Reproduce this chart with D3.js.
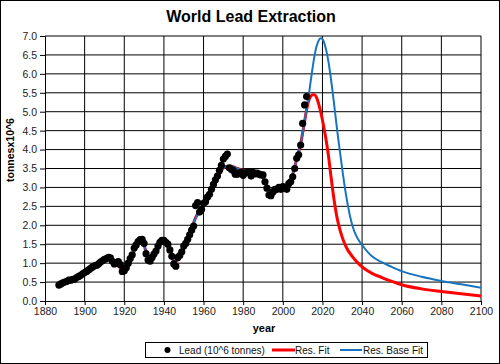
<!DOCTYPE html>
<html>
<head>
<meta charset="utf-8">
<script src="https://cdn.jsdelivr.net/npm/d3@7"></script>
<style>
  body { margin: 0; background: #fff; }
  svg { display: block; font-family: Arial, "Liberation Sans", sans-serif; }
</style>
</head>
<body>
<div id="chart"></div>
<script>
// lead extraction, 10^6 tonnes, one value per year starting 1887
var leadYears = d3.range(1887, 2013);
var leadValues = [
  0.42, 0.45, 0.48, 0.50, 0.52, 0.55, 0.55, 0.57, 0.58, 0.62,   // 1887-1896
  0.65, 0.68, 0.72, 0.75, 0.78, 0.82, 0.86, 0.90, 0.93, 0.94,   // 1897-1906
  0.98, 1.03, 1.06, 1.10, 1.12, 1.15, 1.14, 1.05, 0.98, 1.02,   // 1907-1916
  1.04, 0.96, 0.78, 0.80, 0.88, 1.00, 1.12, 1.22, 1.40, 1.48,   // 1917-1926
  1.57, 1.62, 1.63, 1.52, 1.25, 1.08, 1.05, 1.15, 1.24, 1.32,   // 1927-1936
  1.45, 1.55, 1.60, 1.60, 1.55, 1.50, 1.35, 1.18, 0.98, 0.92,   // 1937-1946
  1.15, 1.20, 1.30, 1.45, 1.52, 1.63, 1.75, 1.87, 1.98, 2.52,   // 1947-1956
  2.60, 2.35, 2.42, 2.58, 2.62, 2.75, 2.82, 2.95, 3.08, 3.20,   // 1957-1966
  3.30, 3.45, 3.58, 3.75, 3.82, 3.88, 3.52, 3.48, 3.45, 3.35,   // 1967-1976
  3.35, 3.38, 3.40, 3.32, 3.38, 3.40, 3.42, 3.30, 3.40, 3.36,   // 1977-1986
  3.38, 3.35, 3.33, 3.33, 3.15, 2.98, 2.80, 2.78, 2.88, 2.95,   // 1987-1996
  2.95, 3.00, 2.95, 3.02, 3.00, 2.95, 3.10, 3.15, 3.28, 3.50,   // 1997-2006
  3.77, 3.86, 4.12, 4.69, 5.18, 5.40                            // 2007-2012
];

// part of the two fits that follows the history (identical for both)
var histYears = [1887, 1890, 1895, 1900, 1905, 1910, 1913, 1916, 1919, 1921, 1924, 1927, 1929,
  1931, 1933, 1936, 1939, 1941, 1943, 1945, 1947, 1950, 1953, 1956, 1959, 1962, 1965, 1968,
  1971, 1974, 1977, 1980, 1983, 1986, 1989, 1991, 1993, 1995, 1997, 1999, 2001, 2003, 2005,
  2007, 2009, 2011];
var histFit = [0.38, 0.47, 0.58, 0.74, 0.92, 1.08, 1.13, 1.00, 0.84, 0.88, 1.20, 1.52, 1.60,
  1.30, 1.08, 1.32, 1.58, 1.56, 1.36, 1.05, 1.08, 1.40, 1.75, 2.20, 2.45, 2.72, 3.02, 3.35,
  3.55, 3.56, 3.50, 3.45, 3.40, 3.37, 3.33, 3.15, 2.90, 2.85, 2.90, 3.00, 3.00, 3.10, 3.35,
  3.75, 4.15, 4.75];

// Res. Fit
var resYears = [2012, 2013, 2014, 2015, 2016, 2017, 2018, 2019, 2020, 2021, 2022, 2023, 2024,
  2025, 2026, 2027, 2028, 2030, 2032, 2035, 2038, 2040, 2045, 2050, 2055, 2060, 2070, 2080,
  2090, 2100];
var resFit = [5.05, 5.28, 5.40, 5.45, 5.45, 5.38, 5.22, 5.02, 4.78, 4.50, 4.20, 3.85, 3.42,
  3.00, 2.62, 2.30, 2.05, 1.68, 1.42, 1.18, 1.00, 0.90, 0.73, 0.62, 0.52, 0.43, 0.32, 0.25,
  0.19, 0.13];

// Res. Base Fit
var baseYears = [2012, 2013, 2014, 2015, 2016, 2017, 2018, 2019, 2020, 2021, 2022, 2023, 2024,
  2025, 2026, 2027, 2028, 2029, 2030, 2031, 2032, 2033, 2034, 2036, 2038, 2040, 2045, 2050,
  2055, 2060, 2070, 2080, 2090, 2100];
var baseFit = [5.10, 5.40, 5.78, 6.15, 6.48, 6.72, 6.87, 6.94, 6.92, 6.80, 6.60, 6.33, 5.98,
  5.58, 5.15, 4.70, 4.27, 3.87, 3.48, 3.10, 2.77, 2.48, 2.22, 1.85, 1.63, 1.48, 1.18, 1.02,
  0.90, 0.79, 0.64, 0.53, 0.44, 0.35];

var xTicks = d3.range(1880, 2101, 20);
var yTicks = d3.range(0, 7.01, 0.5);

var width = 500, height = 364;
var margin = {top: 36, right: 19, bottom: 63, left: 45};

var svg = d3.select("#chart").append("svg")
    .attr("width", width)
    .attr("height", height);

svg.append("rect")
    .attr("x", 0.5).attr("y", 0.5)
    .attr("width", width - 1).attr("height", height - 1)
    .attr("fill", "#fff").attr("stroke", "#000");

var x = d3.scaleLinear().domain([1880, 2100]).range([margin.left, width - margin.right]);
var y = d3.scaleLinear().domain([0, 7]).range([height - margin.bottom, margin.top]);

// title
svg.append("text")
    .attr("x", 251).attr("y", 22)
    .attr("text-anchor", "middle")
    .attr("font-size", 16).attr("font-weight", "bold")
    .text("World Lead Extraction");

// grid
svg.append("g").selectAll("line").data(xTicks.slice(1)).enter().append("line")
    .attr("x1", d => x(d)).attr("x2", d => x(d))
    .attr("y1", y(0)).attr("y2", y(7))
    .attr("stroke", "#000");
svg.append("g").selectAll("line").data(yTicks.slice(1)).enter().append("line")
    .attr("x1", x(1880)).attr("x2", x(2100))
    .attr("y1", d => y(d)).attr("y2", d => y(d))
    .attr("stroke", "#000");

// axes
var xAxis = svg.append("g")
    .attr("transform", `translate(0,${y(0)})`)
    .call(d3.axisBottom(x).tickValues(xTicks).tickFormat(d3.format("d")).tickSize(4).tickPadding(3));
var yAxis = svg.append("g")
    .attr("transform", `translate(${x(1880)},0)`)
    .call(d3.axisLeft(y).tickValues(yTicks).tickFormat(d3.format(".1f")).tickSize(5).tickPadding(3));
[xAxis, yAxis].forEach(a => {
  a.select(".domain").attr("stroke", "#000");
  a.selectAll(".tick line").attr("stroke", "#000");
  a.selectAll(".tick text").attr("font-size", 10.5).attr("fill", "#222")
    .attr("font-family", "Arial, 'Liberation Sans', sans-serif");
});

svg.append("text")
    .attr("x", 264).attr("y", 332)
    .attr("text-anchor", "middle")
    .attr("font-size", 11).attr("font-weight", "bold")
    .text("year");

svg.append("text")
    .attr("transform", "translate(14,150) rotate(-90)")
    .attr("text-anchor", "middle")
    .attr("font-size", 10.5).attr("font-weight", "bold")
    .text("tonnesx10^6");

// fit lines
var line = d3.line()
    .x(d => x(d[0]))
    .y(d => y(d[1]))
    .curve(d3.curveMonotoneX);

var hist = histYears.map((yr, i) => [yr, histFit[i]]);
var resData = hist.concat(resYears.map((yr, i) => [yr, resFit[i]]));
var baseData = hist.concat(baseYears.map((yr, i) => [yr, baseFit[i]]));

svg.append("path")
    .datum(resData)
    .attr("d", line)
    .attr("fill", "none")
    .attr("stroke", "#ff0000")
    .attr("stroke-width", 3);

svg.append("path")
    .datum(baseData)
    .attr("d", line)
    .attr("fill", "none")
    .attr("stroke", "#1874c0")
    .attr("stroke-width", 2);

// data points
svg.append("g").selectAll("circle")
    .data(leadYears.map((yr, i) => [yr, leadValues[i]]))
    .enter().append("circle")
    .attr("cx", d => x(d[0]))
    .attr("cy", d => y(d[1]))
    .attr("r", 3.6)
    .attr("fill", "#000");

// legend
var legend = svg.append("g");
legend.append("rect")
    .attr("x", 145.5).attr("y", 342.5)
    .attr("width", 282).attr("height", 15)
    .attr("fill", "#fff").attr("stroke", "#000");
legend.append("circle")
    .attr("cx", 167.5).attr("cy", 350).attr("r", 3)
    .attr("fill", "#000");
legend.append("text")
    .attr("x", 179).attr("y", 353.5)
    .attr("font-size", 10).attr("fill", "#111")
    .text("Lead (10^6 tonnes)");
legend.append("line")
    .attr("x1", 272).attr("x2", 295).attr("y1", 350).attr("y2", 350)
    .attr("stroke", "#ff0000").attr("stroke-width", 3);
legend.append("text")
    .attr("x", 295).attr("y", 353.5)
    .attr("font-size", 10).attr("fill", "#111")
    .text("Res. Fit");
legend.append("line")
    .attr("x1", 340).attr("x2", 362).attr("y1", 350).attr("y2", 350)
    .attr("stroke", "#1874c0").attr("stroke-width", 2);
legend.append("text")
    .attr("x", 363).attr("y", 353.5)
    .attr("font-size", 10).attr("fill", "#111")
    .text("Res. Base Fit");
</script>
</body>
</html>
